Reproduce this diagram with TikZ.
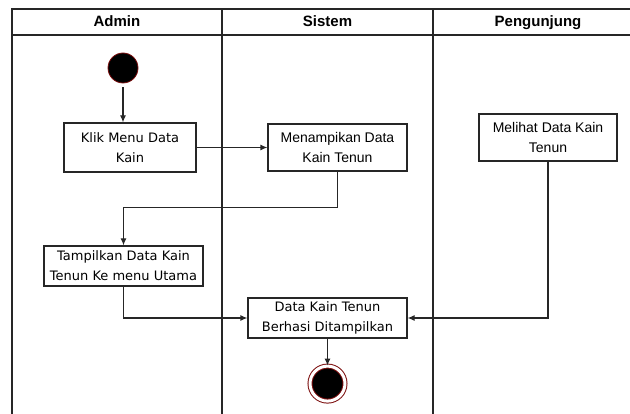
\documentclass[tikz,border=0pt]{standalone}
\usepackage{fontspec}
\setmainfont{Liberation Sans}
\newfontfamily\dejavu{DejaVu Sans}
\usetikzlibrary{arrows.meta,positioning}
\definecolor{darkred}{RGB}{125,15,15}
\tikzset{
  lane/.style={draw=black!85, line width=1.3pt},
  hdr/.style={font=\fontsize{15}{17}\selectfont\bfseries, anchor=base},
  act/.style={draw=black!85, line width=1.2pt, rectangle, align=center, inner sep=1pt},
  actA/.style={act, font=\fontsize{14}{20}\selectfont},
  actD/.style={act, font=\dejavu\fontsize{13}{20}\selectfont},
  flow/.style={draw=black!85, line width=1.2pt, -{Latex[length=7pt,width=6pt]}},
}
\begin{document}
\begin{tikzpicture}[x=1pt, y=-1pt]
  \useasboundingbox (0,0) rectangle (630,414);
  \draw[lane] (630,9) -- (12,9) -- (12,414);
  \draw[lane] (12,35) -- (630,35);
  \draw[lane] (222,9) -- (222,414);
  \draw[lane] (433,9) -- (433,414);
  \node[hdr] (hdAdmin) at (117,27) {Admin};
  \node[hdr] (hdSistem) at (327.5,27) {Sistem};
  \node[hdr] (hdPengunjung) at (538,27) {Pengunjung};

  \node[circle, fill=black, draw=darkred, line width=0.8pt, minimum size=30pt, inner sep=0] (start) at (123,68) {};
  \node[actD, minimum width=132pt, minimum height=49pt] (klik) at (130,147.5) {Klik Menu Data\\Kain};
  \node[actA, minimum width=139pt, minimum height=47pt] (menampil) at (337.5,147.5) {Menampikan Data\\Kain Tenun};
  \node[actA, minimum width=138pt, minimum height=47pt] (melihat) at (548,137.5) {Melihat Data Kain\\Tenun};
  \node[actD, minimum width=159pt, minimum height=40pt] (tampil) at (123.5,266) {Tampilkan Data Kain\\Tenun Ke menu Utama};
  \node[actD, minimum width=159pt, minimum height=40pt] (berhasil) at (327.5,318) {Data Kain Tenun\\Berhasi Ditampilkan};
  \node[circle, fill=black, draw=darkred, line width=1pt, double=white, double distance=3pt,
        minimum size=35pt, inner sep=0, below=27pt of berhasil] (finish) {};

  \draw[flow, shorten <=4pt] (start) -- (start |- klik.north);
  \draw[flow] (klik.east) -- (menampil.west);
  \draw[flow] (menampil.south) -- ++(0,36) -| (tampil.north);
  \draw[flow] (tampil.south) |- (berhasil.west);
  \draw[flow] (melihat.south) |- (berhasil.east);
  \draw[flow] (berhasil) -- (finish);
\end{tikzpicture}
\end{document}
